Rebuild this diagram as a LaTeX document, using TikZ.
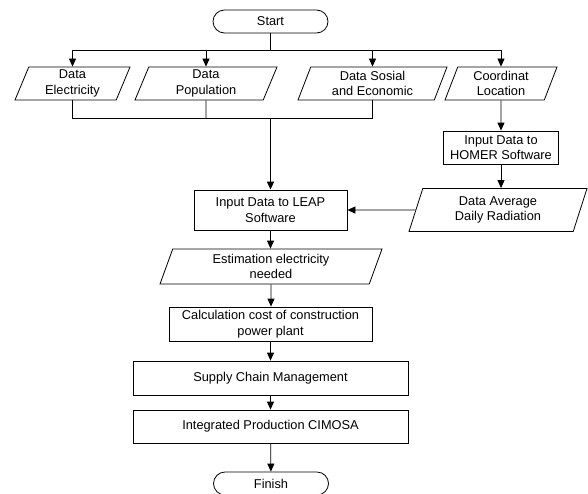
\documentclass[tikz,border=0pt]{standalone}
\usepackage{fontspec}
\setmainfont{Liberation Sans}
\usetikzlibrary{shapes.geometric, arrows.meta}

\begin{document}
\begin{tikzpicture}[
                x=1pt, y=-1pt,
                font=\fontsize{12.8}{15.6}\selectfont,
                terminal/.style={draw, line width=0.8pt, rounded corners=11.5pt, minimum width=115pt, minimum height=23pt, inner sep=0pt},
                process/.style={draw, line width=0.8pt, inner sep=0pt, align=center},
                iodata/.style={draw, line width=0.8pt, trapezium, trapezium left angle=63, trapezium right angle=117, trapezium stretches body, inner sep=0pt, align=center},
                wire/.style={line width=0.8pt},
                flow/.style={wire, -{Triangle[width=7pt, length=8pt]}},
                trunk/.style={line width=1.4pt, -{Triangle[width=7pt, length=8pt]}}
            ]
                \useasboundingbox (0,0) rectangle (588,493);

                % Start and the four inputs
                \node[terminal] (start) at (270.5,21.5) {Start};
                \node[iodata, minimum width=115pt, minimum height=33pt] (elec) at (72.5,83.5) {Data\\Electricity};
                \node[iodata, minimum width=142pt, minimum height=33pt] (popul) at (206,83.5) {Data\\Population};
                \node[iodata, minimum width=149pt, minimum height=33pt] (sosial) at (372.5,83.5) {Data Sosial\\and Economic};
                \node[iodata, minimum width=112pt, minimum height=33pt] (coord) at (501,83.5) {Coordinat\\Location};
                \coordinate (split) at (270.5,50);
                \coordinate (merge) at (270.5,118);

                % HOMER branch (right side)
                \node[process, minimum width=115pt, minimum height=33pt] (homer) at (501,147.5) {Input Data to\\HOMER Software};
                \node[iodata, minimum width=178pt, minimum height=43pt] (radiat) at (498,210) {Data Average\\Daily Radiation};

                % LEAP chain (middle)
                \node[process, minimum width=153pt, minimum height=40pt] (leap) at (270.5,210) {Input Data to LEAP\\Software};
                \node[iodata, minimum width=222pt, minimum height=35pt] (estim) at (271,266.5) {Estimation electricity\\needed};
                \node[process, minimum width=203pt, minimum height=34pt] (calc) at (270.5,324) {Calculation cost of construction\\power plant};
                \node[process, minimum width=275pt, minimum height=34pt] (supply) at (270.5,378) {Supply Chain Management};
                \node[process, minimum width=275pt, minimum height=33pt] (cimosa) at (270.5,426.5) {Integrated Production CIMOSA};
                \node[terminal] (finish) at (271,483.5) {Finish};

                % Connectors
                \draw[line width=1.4pt] (start) -- (split);
                \draw[flow] (split) -| (elec);
                \draw[flow] (split) -| (popul);
                \draw[flow] (split) -| (sosial);
                \draw[flow] (split) -| (coord);
                \draw[wire] (elec) |- (merge);
                \draw[wire] (popul) -- (popul |- merge);
                \draw[wire] (sosial) |- (merge);
                \draw[trunk] (merge) -- (leap);
                \draw[flow] (coord) -- (homer);
                \draw[flow] (homer) -- (homer |- radiat.north);
                \draw[flow] (radiat) -- (leap);
                \draw[flow] (leap) -- (leap |- estim.north);
                \draw[flow] (estim) -- (estim |- calc.north);
                \draw[flow] (calc) -- (supply);
                \draw[flow] (supply) -- (cimosa);
                \draw[flow] (cimosa) -- (finish);
            \end{tikzpicture}
\end{document}
